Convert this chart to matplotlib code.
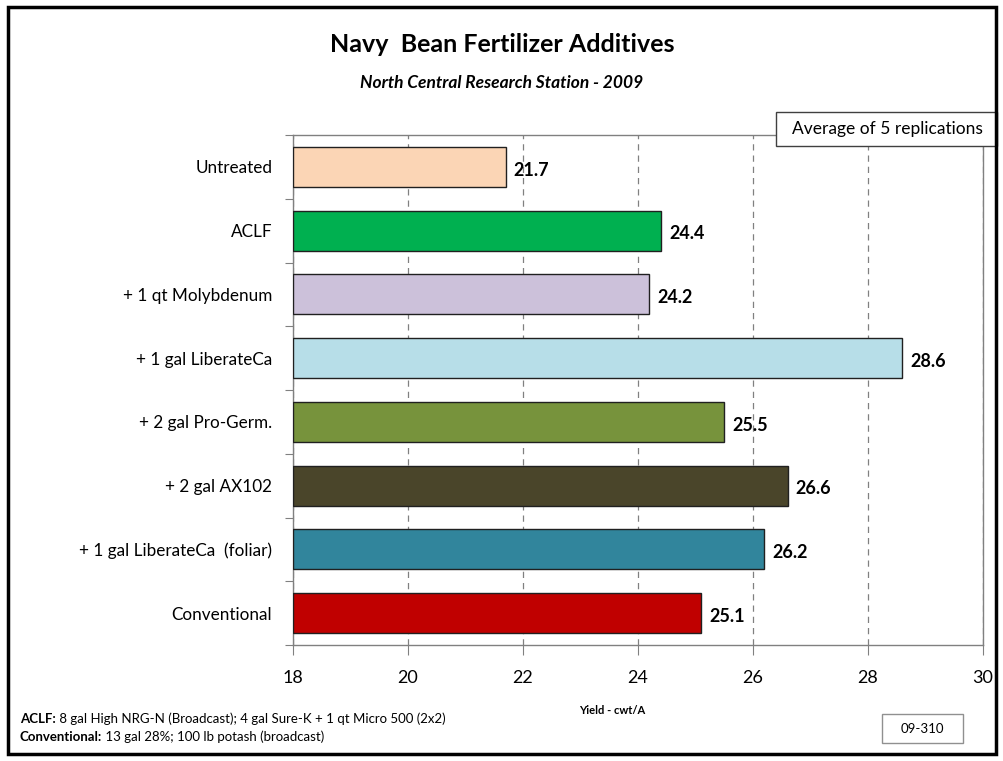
import matplotlib
matplotlib.use("Agg")
import matplotlib.pyplot as plt
from matplotlib.patches import Rectangle

plt.rcParams['font.family'] = ['Lato', 'DejaVu Sans']

categories = ["Untreated", "ACLF", "+ 1 qt Molybdenum", "+ 1 gal LiberateCa",
              "+ 2 gal Pro-Germ.", "+ 2 gal AX102", "+ 1 gal LiberateCa  (foliar)",
              "Conventional"]
values = [21.7, 24.4, 24.2, 28.6, 25.5, 26.6, 26.2, 25.1]
colors = ["#FBD5B5", "#00B050", "#CCC1DA", "#B7DEE8", "#77933C", "#4A452A",
          "#31859C", "#C00000"]
xticks = [18, 20, 22, 24, 26, 28, 30]

fig = plt.figure(figsize=(10.04, 7.61), dpi=100)
ax = fig.add_axes([293/1004, 1-645/761, (983-293)/1004, (645-135)/761])

n = len(categories)
ypos = list(range(n))
ax.barh(ypos, [v - 18 for v in values], left=18, height=0.63, color=colors,
        edgecolor="#202020", linewidth=1.0, zorder=3)
for y, v in zip(ypos, values):
    ax.text(v + 0.14, y + 0.05, f"{v:.1f}", va="center", ha="left",
            fontsize=13, fontweight="bold", color="black", zorder=4)

ax.set_xlim(18, 30)
ax.set_ylim(n - 0.5, -0.5)
ax.set_xticks(xticks)
ax.set_xticklabels([str(t) for t in xticks], fontsize=13)
ax.tick_params(axis='x', direction='out', length=7, color='#808080', pad=11)
ax.set_yticks([i - 0.5 for i in range(n + 1)])
ax.set_yticklabels([])
ax.tick_params(axis='y', which='major', direction='out', length=6, color='#808080')
ax.set_yticks(ypos, minor=True)
ax.set_yticklabels(categories, minor=True, fontsize=12.3)
ax.tick_params(axis='y', which='minor', length=0, pad=15)
ax.grid(axis='x', linestyle=(0, (5, 4)), color='#808080', linewidth=0.9, zorder=0)
for s in ax.spines.values():
    s.set_color('#808080')
    s.set_linewidth(1.0)

fig.text(612/1004, 1-711/761, "Yield - cwt/A", ha="center",
         va="center", fontsize=8, fontweight="bold")

fig.text(502/1004, 1-45/761, "Navy  Bean Fertilizer Additives", ha="center",
         va="center", fontsize=18, fontweight="bold")
fig.text(502/1004, 1-83/761, "North Central Research Station - 2009", ha="center",
         va="center", fontsize=12.5, fontweight="bold", style="italic")

# boxes
fig.patches.append(Rectangle((776/1004, 1-146/761), (997-776)/1004, 34/761,
                             transform=fig.transFigure, facecolor="white",
                             edgecolor="#404040", linewidth=1.0, zorder=5))
fig.text(887/1004, 1-129/761, "Average of 5 replications", ha="center", va="center",
         fontsize=12.5, zorder=6)
fig.patches.append(Rectangle((882/1004, 1-743/761), (963-882)/1004, 29/761,
                             transform=fig.transFigure, facecolor="white",
                             edgecolor="#909090", linewidth=1.0, zorder=5))
fig.text(922/1004, 1-729/761, "09-310", ha="center", va="center", fontsize=9.5, zorder=6)

# footnotes
b1 = fig.text(20/1004, 1-719/761, "ACLF:", ha="left", va="center",
              fontsize=9.5, fontweight="bold")
fig.add_artist(matplotlib.text.Annotation(
    " 8 gal High NRG-N (Broadcast); 4 gal Sure-K + 1 qt Micro 500 (2x2)",
    xy=(1, 0.5), xycoords=b1, ha="left", va="center", fontsize=9.5))
b2 = fig.text(20/1004, 1-737/761, "Conventional:", ha="left", va="center",
              fontsize=9.5, fontweight="bold")
fig.add_artist(matplotlib.text.Annotation(
    " 13 gal 28%; 100 lb potash (broadcast)",
    xy=(1, 0.5), xycoords=b2, ha="left", va="center", fontsize=9.5))

# outer frame
fig.patches.append(Rectangle((8/1004, 1-754/761), (996-8)/1004, (754-7)/761,
                             transform=fig.transFigure, facecolor="none",
                             edgecolor="black", linewidth=2.5, zorder=10))

fig.savefig("out.png", dpi=100)
